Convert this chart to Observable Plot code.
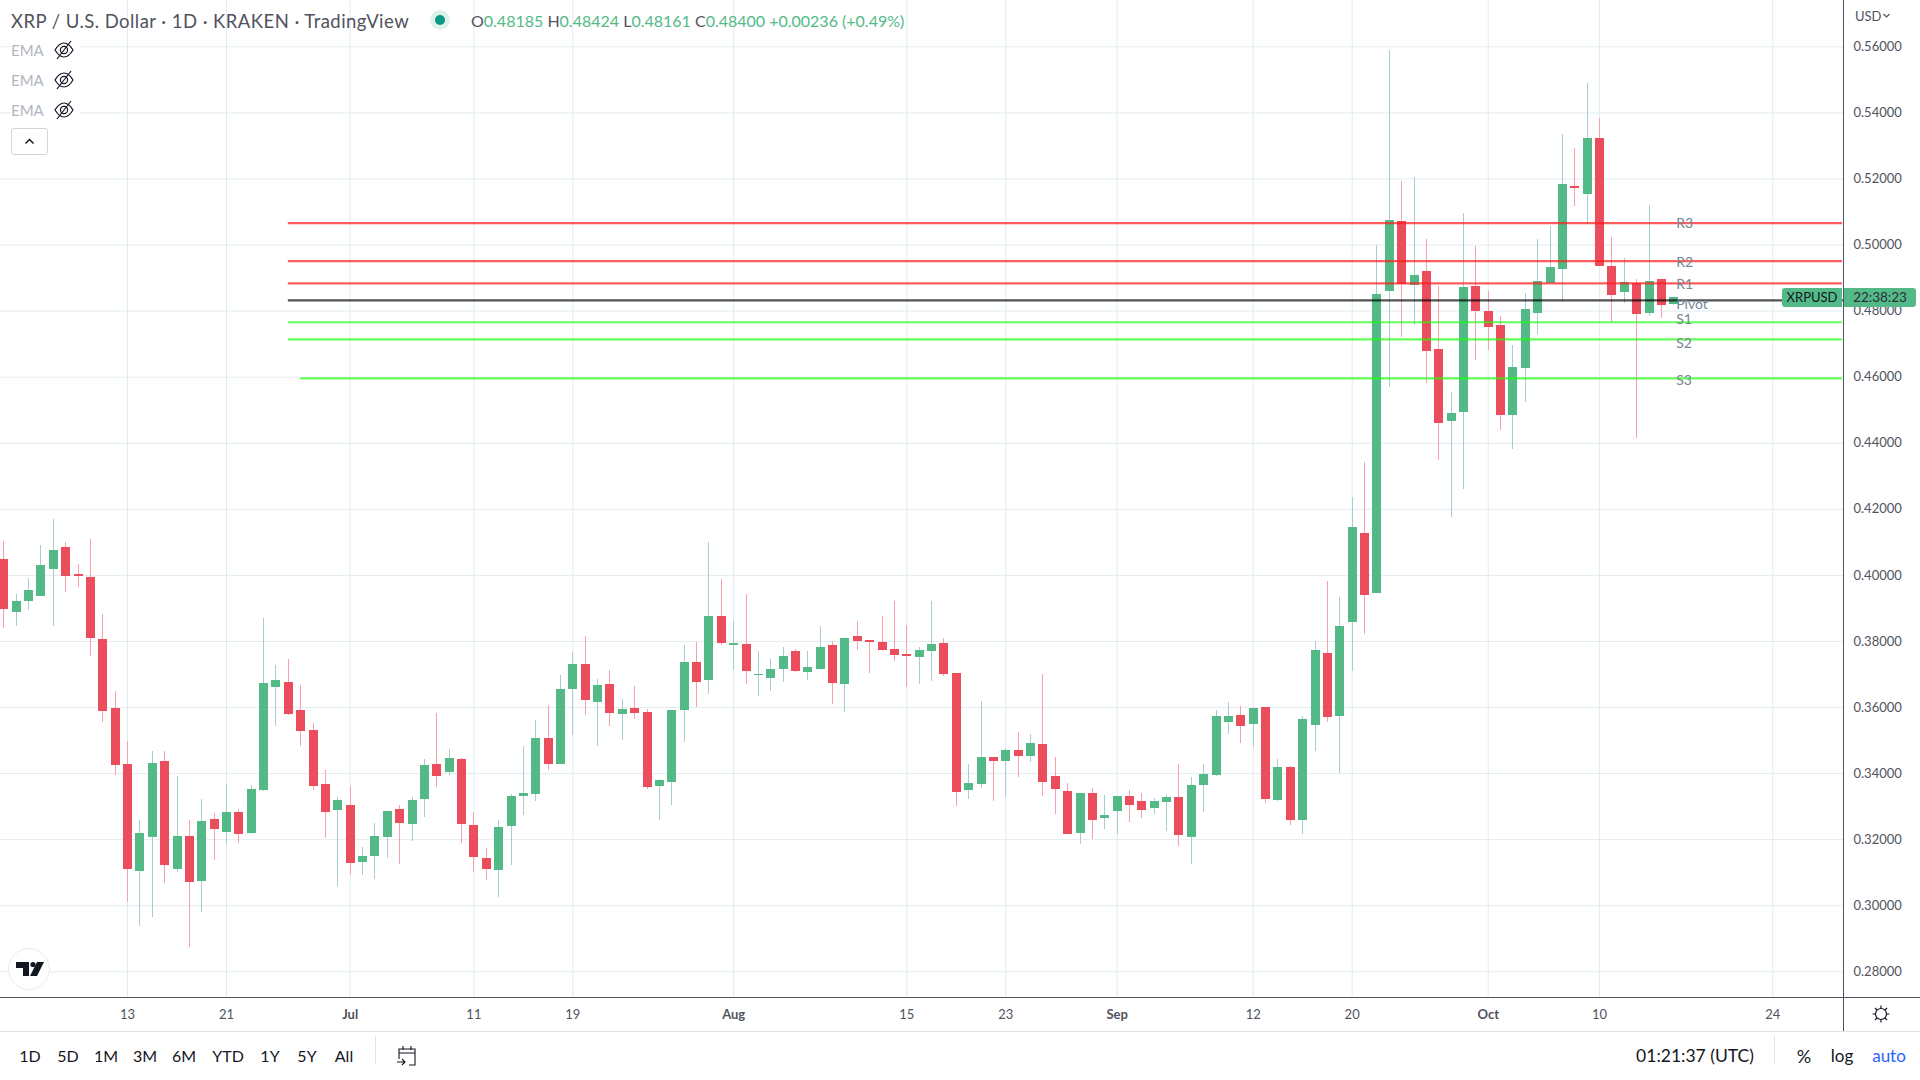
<!DOCTYPE html>
<html>
<head>
<meta charset="utf-8">
<script src="https://cdn.jsdelivr.net/npm/d3@7"></script>
<script src="https://cdn.jsdelivr.net/npm/@observablehq/plot@0.6"></script>
<style>
html,body{margin:0;padding:0;background:#fff;overflow:hidden}
#wrap{position:relative;width:1920px;height:1080px;font-family:Lato,"Open Sans",sans-serif;color:#131722;overflow:hidden}
#wrap svg{display:block}
.abs{position:absolute;white-space:nowrap}
.ema{left:11px;color:#b2b5be;font-size:15px;background:#fff;width:69px;height:24px;line-height:24px}
.ema svg{position:absolute;left:42px;top:1px}
.bar{top:1045px;font-size:16px;line-height:22px;transform:translateX(-50%)}
.tag{background:#53b987;color:#131722;font-size:13px;text-align:center;height:19px;line-height:19px}
</style>
</head>
<body>
<div id="wrap"></div>
<script>
const firstDay = Date.UTC(2022, 5, 3);
const opens = [.40495,.3889,.3922,.3937,.4019,.4083,.4004,.3995,.3807,.3598,.3428,.3104,.3207,.3437,.3110,.3210,.3074,.3262,.3222,.3283,.3219,.3349,.3662,.3677,.3592,.3531,.3368,.3289,.3304,.3131,.3149,.3207,.3292,.3246,.3322,.3428,.3404,.3443,.3243,.3143,.3107,.3240,.3331,.3337,.3507,.3428,.3653,.3731,.3616,.3671,.3580,.3598,.3586,.3362,.3374,.3592,.3737,.3683,.3877,.3789,.3792,.3698,.3689,.3716,.3771,.3707,.3716,.3789,.3671,.3816,.3804,.3798,.3777,.3759,.3750,.3771,.3795,.3704,.3349,.3368,.3449,.3437,.3471,.3453,.3489,.3392,.3346,.3219,.3340,.3265,.3286,.3331,.3316,.3295,.3313,.3328,.3207,.3365,.3395,.3556,.3577,.3549,.3601,.3319,.3419,.3259,.3546,.3762,.3574,.3856,.4128,.3946,.4859,.5071,.4877,.4919,.4683,.4465,.4492,.4874,.4798,.4756,.4483,.4625,.4792,.4883,.4925,.5177,.5153,.5322,.4934,.4856,.4883,.4792,.4895,.48185];
const closes = [.3896,.3922,.3953,.4031,.4074,.3998,.3998,.3810,.3589,.3425,.3110,.3219,.3431,.3122,.3210,.3071,.3256,.3231,.3283,.3216,.3353,.3674,.3683,.3580,.3528,.3362,.3283,.3319,.3128,.3149,.3210,.3286,.3249,.3319,.3425,.3392,.3446,.3246,.3146,.3110,.3237,.3331,.3340,.3507,.3428,.3656,.3731,.3622,.3668,.3583,.3595,.3583,.3359,.3380,.3592,.3737,.3677,.3874,.3795,.3795,.3710,.3701,.3716,.3753,.3710,.3722,.3783,.3674,.3810,.3801,.3798,.3774,.3756,.3753,.3774,.3792,.3701,.3343,.3371,.3449,.3437,.3471,.3453,.3492,.3374,.3353,.3216,.3340,.3259,.3274,.3331,.3304,.3289,.3316,.3328,.3213,.3365,.3398,.3574,.3574,.3543,.3598,.3322,.3419,.3259,.3565,.3774,.3571,.3846,.4146,.3940,.4849,.5074,.4880,.4907,.4677,.4459,.4489,.4871,.4798,.4749,.4483,.4628,.4804,.4889,.4931,.5183,.5171,.5322,.4934,.4846,.4886,.4789,.4889,.4816,.48400];
const highs = [.4104,.3943,.3992,.4089,.4168,.4098,.4034,.4110,.3883,.3649,.3498,.3259,.3468,.3468,.3392,.3259,.3322,.3280,.3368,.3292,.3365,.3868,.3728,.3746,.3668,.3553,.3410,.3328,.3362,.3177,.3249,.3286,.3304,.3328,.3443,.3583,.3474,.3446,.3283,.3174,.3259,.3337,.3483,.3562,.3607,.3698,.3765,.3816,.3686,.3713,.3625,.3665,.3595,.3383,.3592,.3789,.3798,.4098,.3986,.3859,.3943,.3771,.3746,.3783,.3777,.3771,.3846,.3801,.3810,.3859,.3804,.3877,.3922,.3849,.3783,.3922,.3810,.3704,.3428,.3619,.3449,.3477,.3525,.3519,.3701,.3449,.3371,.3340,.3356,.3334,.3331,.3349,.3340,.3325,.3334,.3428,.3389,.3428,.3592,.3616,.3604,.3598,.3601,.3443,.3422,.3574,.3801,.3980,.3934,.4237,.4343,.4998,.5589,.5192,.5204,.5016,.4874,.4553,.5095,.4995,.4859,.4783,.4695,.4853,.5016,.5056,.5334,.5292,.5489,.5383,.5022,.4959,.4895,.5119,.4895,.48424];
const lows = [.3838,.3844,.3895,.3937,.3846,.3949,.3962,.3753,.3556,.3395,.3010,.2937,.2965,.3068,.3101,.2874,.2980,.3137,.3186,.3189,.3216,.3346,.3543,.3577,.3483,.3349,.3204,.3059,.3095,.3092,.3080,.3143,.3125,.3195,.3268,.3359,.3395,.3189,.3101,.3077,.3026,.3122,.3274,.3316,.3410,.3428,.3516,.3577,.3483,.3543,.3501,.3565,.3353,.3259,.3304,.3495,.3601,.3640,.3789,.3713,.3671,.3634,.3649,.3677,.3707,.3683,.3716,.3610,.3586,.3774,.3704,.3771,.3740,.3662,.3671,.3680,.3695,.3301,.3322,.3356,.3316,.3328,.3389,.3434,.3331,.3277,.3216,.3186,.3201,.3231,.3216,.3253,.3265,.3277,.3225,.3180,.3125,.3283,.3392,.3519,.3492,.3480,.3310,.3316,.3243,.3216,.3468,.3556,.3401,.3710,.3822,.3946,.4568,.4719,.4756,.4580,.4349,.4174,.4259,.4650,.4680,.4440,.4380,.4522,.4728,.4883,.4825,.5116,.5062,.4934,.4765,.4822,.4413,.4783,.4777,.48161];

const priceTicks = [.28,.30,.32,.34,.36,.38,.40,.42,.44,.46,.48,.50,.52,.54,.56];
const dayTickDates = [[2022,5,13,"13"],[2022,5,21,"21"],[2022,6,11,"11"],[2022,6,19,"19"],[2022,7,15,"15"],[2022,7,23,"23"],[2022,8,12,"12"],[2022,8,20,"20"],[2022,9,10,"10"],[2022,9,24,"24"]];
const monthTickDates = [[2022,6,1,"Jul"],[2022,7,1,"Aug"],[2022,8,1,"Sep"],[2022,9,1,"Oct"]];

const resistanceNames = ["R3","R2","R1"];
const resistanceLevels = [.5065,.4950,.4883];
const supportNames = ["S1","S2","S3"];
const supportLevels = [.4765,.4713,.4595];
const pivotLevel = .4831;
const levelLabelNames = ["R3","R2","R1","Pivot","S1","S2","S3"];
const levelLabelPrices = [.5065,.4946,.4880,.4820,.4775,.4701,.4590];

const dayMs = 864e5;
const toDate = (i) => new Date(firstDay + i * dayMs);
const candles = opens.map((o, i) => ({date: toDate(i), open: o, close: closes[i], high: highs[i], low: lows[i], up: closes[i] >= o}));
const utcOf = (d) => new Date(Date.UTC(d[0], d[1], d[2]));
const domainEnd = toDate(148.72);
const levelEnd = toDate(148.64);
const levelStart = toDate(23);
const s3Start = toDate(24);

const GREEN = "#53b987", RED = "#eb4d5c", WICK_G = "#a7cdcf", WICK_R = "#f8a1ab", GRID = "#e1ecf2";
const TEXT = "#50535e";

const fmtTick = (labels) => (d) => (labels.find((t) => +utcOf(t) === +d) || [,,,""])[3];

const chart = Plot.plot({
  width: 1920, height: 1031,
  marginLeft: 0, marginRight: 77, marginTop: 0, marginBottom: 34,
  style: {fontFamily: "Lato, 'Open Sans', sans-serif", background: "#fff", color: TEXT},
  x: {type: "utc", domain: [toDate(-0.27), domainEnd], label: null},
  y: {domain: [.27221, .57403], label: null},
  marks: [
    Plot.ruleY(priceTicks, {stroke: GRID, strokeWidth: 1}),
    Plot.ruleX([...dayTickDates, ...monthTickDates].map(utcOf), {stroke: GRID, strokeWidth: 1}),
    Plot.ruleX(candles, {x: "date", y1: "low", y2: "high", stroke: (d) => d.up ? WICK_G : WICK_R, strokeWidth: 1, shapeRendering: "crispEdges"}),
    Plot.ruleX(candles, {x: "date", y1: "open", y2: "close", stroke: (d) => d.up ? GREEN : RED, strokeWidth: 9, shapeRendering: "crispEdges"}),
    Plot.ruleY(resistanceLevels, {x1: levelStart, x2: levelEnd, dy: -0.4, stroke: "#ff1f1f", strokeOpacity: .72, strokeWidth: 2.2}),
    Plot.ruleY(supportLevels.slice(0, 2), {x1: levelStart, x2: levelEnd, dy: -0.4, stroke: "#1aff0a", strokeOpacity: .68, strokeWidth: 2.2}),
    Plot.ruleY(supportLevels.slice(2), {x1: s3Start, x2: levelEnd, dy: -0.4, stroke: "#1aff0a", strokeOpacity: .68, strokeWidth: 2.2}),
    Plot.ruleY([pivotLevel], {x1: levelStart, x2: domainEnd, dy: -0.4, stroke: "#000", strokeOpacity: .68, strokeWidth: 2.2}),
    Plot.text(levelLabelNames, {x: toDate(135.2), y: (d, i) => levelLabelPrices[i], text: (d) => d, textAnchor: "start", fill: "#758696", fontSize: 14}),
    Plot.axisY(priceTicks, {anchor: "right", tickSize: 0, tickPadding: 10, tickFormat: (d) => d.toFixed(5), fontSize: 13, fill: TEXT, label: null}),
    Plot.axisX(dayTickDates.map(utcOf), {tickSize: 0, tickPadding: 12, tickFormat: fmtTick(dayTickDates), fontSize: 13, fill: TEXT, label: null}),
    Plot.axisX(monthTickDates.map(utcOf), {tickSize: 0, tickPadding: 12, tickFormat: fmtTick(monthTickDates), fontSize: 13, fontWeight: "bold", fill: TEXT, label: null})
  ]
});

const wrap = document.getElementById("wrap");
wrap.appendChild(chart);

function add(html) { wrap.insertAdjacentHTML("beforeend", html); }
const eye = `<svg width="22" height="22" viewBox="0 0 22 22" fill="none" stroke="#131722" stroke-width="1.2"><path d="M2 11c3-5 6-7 9-7s6 2 9 7c-3 5-6 7-9 7s-6-2-9-7z"/><circle cx="11" cy="11" r="3.6"/><path d="M4 20L18 2"/></svg>`;

// frame lines
add(`<div class="abs" style="left:1843px;top:0;width:1px;height:1031px;background:#50535e"></div>`);
add(`<div class="abs" style="left:0;top:997px;width:1920px;height:1px;background:#50535e"></div>`);
add(`<div class="abs" style="left:0;top:1031px;width:1920px;height:1px;background:#e0e3eb"></div>`);

// legend
add(`<div class="abs" style="left:11px;top:10px;font-size:18.5px;letter-spacing:.45px;line-height:22px;color:#50535e">XRP / U.S. Dollar · 1D · KRAKEN · TradingView</div>`);
add(`<div class="abs" style="left:430px;top:10px;width:20px;height:20px;border-radius:50%;background:#dff1ec"></div><div class="abs" style="left:435px;top:15px;width:10px;height:10px;border-radius:50%;background:#089981"></div>`);
add(`<div class="abs" style="left:471px;top:10px;font-size:16px;line-height:22px;color:#53b987"><span style="color:#50535e">O</span>0.48185 <span style="color:#50535e">H</span>0.48424 <span style="color:#50535e">L</span>0.48161 <span style="color:#50535e">C</span>0.48400 +0.00236 (+0.49%)</div>`);
[38, 68, 98].forEach((t) => add(`<div class="abs ema" style="top:${t}px">EMA${eye}</div>`));
add(`<div class="abs" style="left:11px;top:128px;width:35px;height:25px;border:1px solid #d1d4dc;border-radius:3px;background:#fff"><svg width="35" height="25" fill="none" stroke="#131722" stroke-width="1.5"><path d="M13.5 14.5l4-4 4 4"/></svg></div>`);
add(`<div class="abs" style="left:1855px;top:8px;font-size:13px;line-height:16px;color:#50535e">USD</div>`);
add(`<svg class="abs" style="left:1882px;top:11px" width="9" height="9" fill="none" stroke="#50535e" stroke-width="1.2"><path d="M1.5 3l3 3 3-3"/></svg>`);

// TradingView badge
add(`<div class="abs" style="left:8px;top:948px;width:40px;height:40px;border:1.5px solid #e9ebf0;border-radius:50%;background:#fff"><svg width="40" height="40" fill="#131722"><path d="M7 13h13v14h-6V19H7z"/><circle cx="24" cy="15.5" r="2.6"/><path d="M28 13h7l-7 14h-7z"/></svg></div>`);

// price tag positioned from the chart's own scale
const tagCenter = chart.scale("y").apply(.484);
add(`<div class="abs tag" style="left:1782px;top:${tagCenter - 9.5}px;width:60px;border-radius:3px 0 0 3px">XRPUSD</div>`);
add(`<div class="abs tag" style="left:1844px;top:${tagCenter - 9.5}px;width:72px;border-radius:0 3px 3px 0;color:#2a2e39;font-size:13.5px">22:38:23</div>`);

// gear icon
add(`<div class="abs" style="left:1871px;top:1004px"><svg width="20" height="20" fill="none" stroke="#131722" stroke-width="1.2"><circle cx="10" cy="10" r="5.5"/><path d="M10 1.5v3M10 15.5v3M1.5 10h3M15.5 10h3M4 4l2 2M14 14l2 2M16 4l-2 2M6 14l-2 2"/></svg></div>`);

// bottom bar
const rangeLabels = ["1D","5D","1M","3M","6M","YTD","1Y","5Y","All"];
const rangeCenters = [30,68,106,145,184,228,270,307,344];
rangeLabels.forEach((t, i) => add(`<div class="abs bar" style="left:${rangeCenters[i]}px">${t}</div>`));
add(`<div class="abs" style="left:375px;top:1036px;width:1px;height:28px;background:#e0e3eb"></div>`);
add(`<div class="abs" style="left:396px;top:1044px"><svg width="22" height="24" fill="none" stroke="#131722" stroke-width="1.1"><path d="M3 15V5h16v16H13M3 9h16M7 2v4M15 2v4M1 18h8M6 15l3 3-3 3"/></svg></div>`);
add(`<div class="abs bar" style="left:1695px;font-size:17.5px">01:21:37 (UTC)</div>`);
add(`<div class="abs" style="left:1774px;top:1036px;width:1px;height:28px;background:#e0e3eb"></div>`);
add(`<div class="abs bar" style="left:1804px;font-size:18px">%</div>`);
add(`<div class="abs bar" style="left:1842px;font-size:17px">log</div>`);
add(`<div class="abs bar" style="left:1889px;color:#2962ff;font-size:17px">auto</div>`);
</script>
</body>
</html>
